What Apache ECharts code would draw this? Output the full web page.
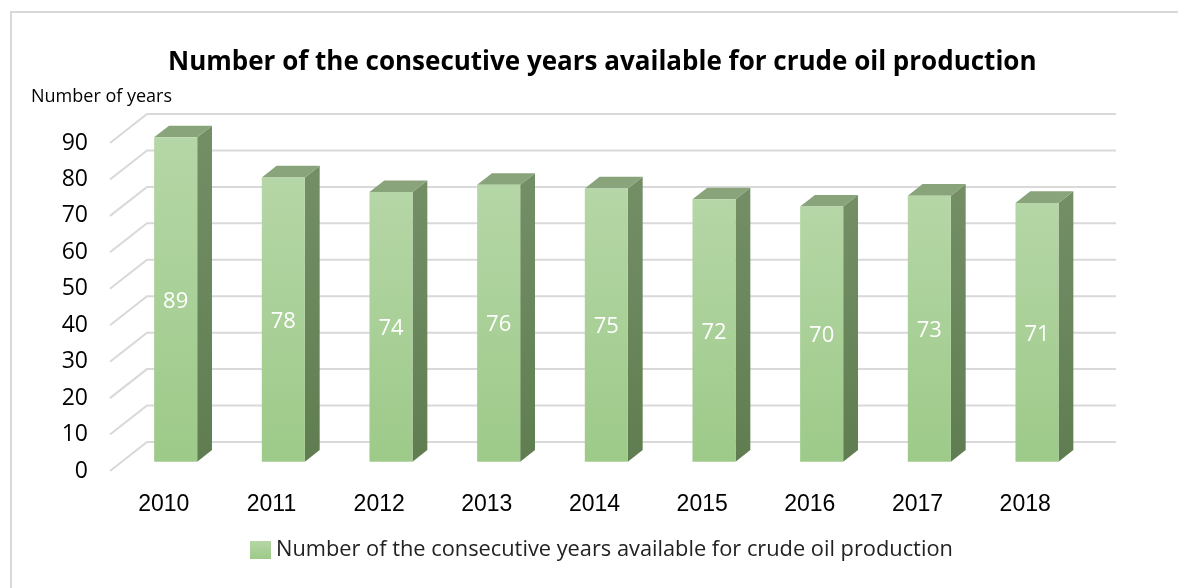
<!DOCTYPE html>
<html>
<head>
<meta charset="utf-8">
<script src="https://cdn.jsdelivr.net/npm/echarts@6/dist/echarts.min.js"></script>
<style>
  html, body { margin: 0; padding: 0; background: #fff; }
  #chart { width: 1178px; height: 588px; }
</style>
</head>
<body>
<div id="chart"></div>
<script>
const years = ['2010', '2011', '2012', '2013', '2014', '2015', '2016', '2017', '2018'];
const yearsAvailable = [89, 78, 74, 76, 75, 72, 70, 73, 71];
const yTicks = [0, 10, 20, 30, 40, 50, 60, 70, 80, 90];
const seriesName = 'Number of the consecutive years available for crude oil production';

// oblique depth of the 3d floor (front plane -> back wall)
const DX = 37, DY = -29;
const FRONT = 0.32;  // bar front face sits this far into the depth
const DEPTH = 0.4;   // bar thickness as a share of the depth

const chart = echarts.init(document.getElementById('chart'));

const frontFill = new echarts.graphic.LinearGradient(0, 0, 0, 1, [
  {offset: 0, color: '#b5d6a6'}, {offset: 1, color: '#9dca89'}
]);
const sideFill = new echarts.graphic.LinearGradient(0, 0, 0, 1, [
  {offset: 0, color: '#748f66'}, {offset: 1, color: '#607d51'}
]);

function renderGrid(params, api) {
  const cs = params.coordSys;
  const y = api.coord([0, api.value(1)])[1];
  return {
    type: 'polyline',
    shape: {points: [[cs.x, y], [cs.x + DX, y + DY], [cs.x + cs.width + DX, y + DY]]},
    style: {stroke: '#d9d9d9', lineWidth: 2, fill: null},
    silent: true
  };
}

function renderBar(params, api) {
  const i = api.value(0), v = api.value(1);
  const base = api.coord([i, 0]);
  const top = api.coord([i, v]);
  const w = api.size([1, 0])[0] * 0.4;
  const x = base[0] - w / 2 + DX * FRONT;
  const yb = base[1] + DY * FRONT;
  const yt = top[1] + DY * FRONT;
  const bx = DX * DEPTH, by = DY * DEPTH;
  return {
    type: 'group',
    children: [
      {type: 'polygon', shape: {points: [[x + w, yt], [x + w + bx, yt + by], [x + w + bx, yb + by], [x + w, yb]]},
        style: {fill: sideFill}},
      {type: 'polygon', shape: {points: [[x, yt], [x + bx, yt + by], [x + w + bx, yt + by], [x + w, yt]]},
        style: {fill: '#89a37b'}},
      {type: 'rect', shape: {x: x, y: yt, width: w, height: yb - yt},
        style: {fill: frontFill}},
      {type: 'text', x: x + w / 2, y: (yt + yb) / 2 + 2,
        style: {text: String(v), fill: '#fff', fontSize: 22, fontFamily: 'Open Sans',
          align: 'center', verticalAlign: 'middle'}}
    ]
  };
}

chart.setOption({
  backgroundColor: '#fff',
  animation: false,
  title: {
    text: 'Number of the consecutive years available for crude oil production',
    left: 163, top: 45,
    textStyle: {fontFamily: 'Open Sans', fontWeight: 'bold', fontSize: 26, color: '#000'}
  },
  legend: {
    data: [seriesName],
    bottom: 22, left: 245,
    icon: 'rect', itemWidth: 21, itemHeight: 18, itemGap: 10,
    textStyle: {fontFamily: 'Open Sans', fontSize: 21.8, color: '#222'}
  },
  graphic: [
    {type: 'text', left: 31, top: 88,
      style: {text: 'Number of years', fontFamily: 'Open Sans', fontSize: 18, fill: '#000'}},
    {type: 'line', shape: {x1: 10, y1: 12, x2: 1178, y2: 12}, style: {stroke: '#d9d9d9', lineWidth: 2}},
    {type: 'line', shape: {x1: 11, y1: 12, x2: 11, y2: 588}, style: {stroke: '#d9d9d9', lineWidth: 2}}
  ],
  grid: {left: 110, right: 99, top: 143, bottom: 117},
  xAxis: {
    type: 'category', data: years,
    axisLine: {show: false}, axisTick: {show: false}, splitLine: {show: false},
    axisLabel: {margin: 22, fontFamily: 'Liberation Sans', fontSize: 23, color: '#000'}
  },
  yAxis: {
    type: 'value', min: 0, max: 90, interval: 10,
    axisLine: {show: false}, axisTick: {show: false}, splitLine: {show: false},
    axisLabel: {margin: 22, fontFamily: 'Open Sans', fontSize: 23, color: '#000'}
  },
  series: [
    {
      type: 'custom', name: 'grid', renderItem: renderGrid, silent: true, z: 1,
      data: yTicks.map(t => [0, t])
    },
    {
      type: 'custom', name: seriesName, renderItem: renderBar, z: 2,
      itemStyle: {color: frontFill},
      data: yearsAvailable.map((v, i) => [i, v])
    }
  ]
});
</script>
</body>
</html>
